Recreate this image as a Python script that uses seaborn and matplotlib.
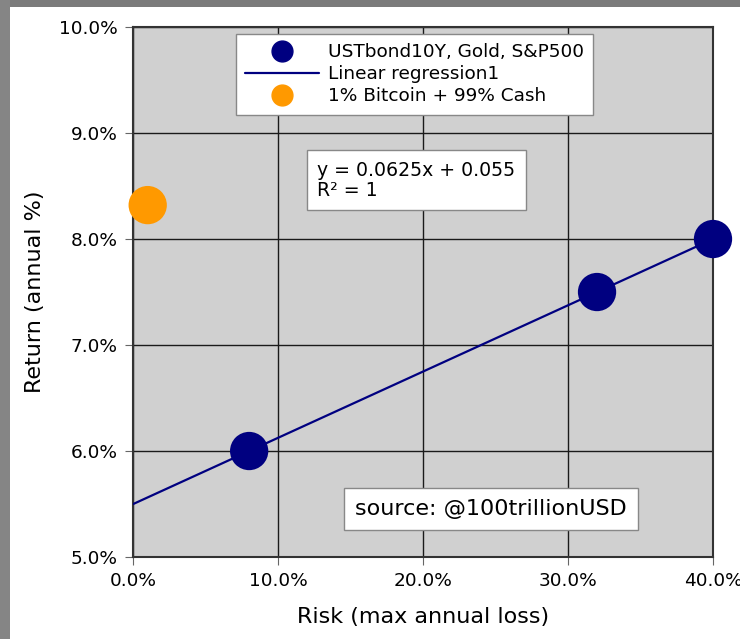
import numpy as np
import pandas as pd
import matplotlib
matplotlib.use("Agg")
import matplotlib.pyplot as plt
import seaborn as sns
from matplotlib.ticker import PercentFormatter
from matplotlib.lines import Line2D
from matplotlib.patches import Rectangle

# datos
activos = ["USTbond10Y", "Gold", "S&P500"]
riesgo = [0.08, 0.32, 0.40]
retorno = [0.060, 0.075, 0.080]

btc_riesgo = [0.01]
btc_retorno = [0.0832]

pendiente = 0.0625
ordenada = 0.055
x_rango = [0.0, 0.40]

df = pd.DataFrame({"activo": activos, "riesgo": riesgo, "retorno": retorno})
df_btc = pd.DataFrame({"riesgo": btc_riesgo, "retorno": btc_retorno})
df_reg = pd.DataFrame({"riesgo": x_rango})
df_reg["retorno"] = pendiente * df_reg["riesgo"] + ordenada

sns.set_style("whitegrid", {
    "axes.facecolor": "#d0d0d0",
    "grid.color": "#1a1a1a",
    "axes.edgecolor": "#333333",
    "axes.labelcolor": "black",
    "text.color": "black",
    "xtick.color": "black",
    "ytick.color": "black",
    "xtick.bottom": True,
    "ytick.left": True,
})
plt.rcParams["font.family"] = ["DejaVu Sans"]

fig = plt.figure(figsize=(7.40, 6.39), dpi=100)
fig.patch.set_facecolor("white")
# marco gris de la captura
fig.patches.append(Rectangle((0, 1 - 7 / 639), 1, 7 / 639, transform=fig.transFigure,
                             facecolor="#7b7b7b", edgecolor="none", zorder=-1))
fig.patches.append(Rectangle((0, 0), 10 / 740, 1, transform=fig.transFigure,
                             facecolor="#858585", edgecolor="none", zorder=-1))

ax = fig.add_axes([0.180, 0.1283, 0.7835, 0.8294])

sns.lineplot(data=df_reg, x="riesgo", y="retorno", ax=ax, color="#000080", linewidth=1.6, zorder=3)
sns.scatterplot(data=df, x="riesgo", y="retorno", ax=ax, color="#000080", s=760,
                edgecolor="none", zorder=4, clip_on=False)
sns.scatterplot(data=df_btc, x="riesgo", y="retorno", ax=ax, color="#ff9900", s=760,
                edgecolor="none", zorder=4, clip_on=False)

ax.set_xlim(0, 0.40)
ax.set_ylim(0.05, 0.10)
ax.set_xticks([0, 0.1, 0.2, 0.3, 0.4])
ax.set_yticks([0.05, 0.06, 0.07, 0.08, 0.09, 0.10])
ax.xaxis.set_major_formatter(PercentFormatter(1.0, decimals=1))
ax.yaxis.set_major_formatter(PercentFormatter(1.0, decimals=1))
ax.grid(True, color="#1a1a1a", linewidth=1.0)
ax.tick_params(axis="both", labelsize=13.3, length=6, color="#666666", pad=5,
               labelcolor="black")
for s in ax.spines.values():
    s.set_linewidth(1.5)
    s.set_color("#333333")

ax.set_xlabel("Risk (max annual loss)", fontsize=16, labelpad=12)
ax.set_ylabel("Return (annual %)", fontsize=16, labelpad=10)

handles = [
    Line2D([], [], marker="o", linestyle="none", color="#000080", markersize=15),
    Line2D([], [], color="#000080", linewidth=1.6),
    Line2D([], [], marker="o", linestyle="none", color="#ff9900", markersize=15),
]
labels = ["USTbond10Y, Gold, S&P500", "Linear regression1", "1% Bitcoin + 99% Cash"]
leg = ax.legend(handles, labels, loc="upper center", bbox_to_anchor=(0.485, 0.987),
                borderaxespad=0, fontsize=13.3, frameon=True, fancybox=False,
                framealpha=1, facecolor="white", edgecolor="#888888", handlelength=4.0,
                labelspacing=0.22, borderpad=0.5, handletextpad=0.5)
leg.get_frame().set_linewidth(1.0)

caja = dict(boxstyle="square,pad=0.55", facecolor="white", edgecolor="#888888", linewidth=1.0)
ax.text(0.317, 0.748, "y = 0.0625x + 0.055\nR² = 1", transform=ax.transAxes,
        fontsize=13.6, va="top", ha="left", bbox=caja, linespacing=1.1)
ax.text(0.617, 0.09, "source: @100trillionUSD", transform=ax.transAxes,
        fontsize=16, va="center", ha="center",
        bbox=dict(boxstyle="square,pad=0.5", facecolor="white", edgecolor="#888888", linewidth=1.0))

fig.savefig("out.png", dpi=100)
